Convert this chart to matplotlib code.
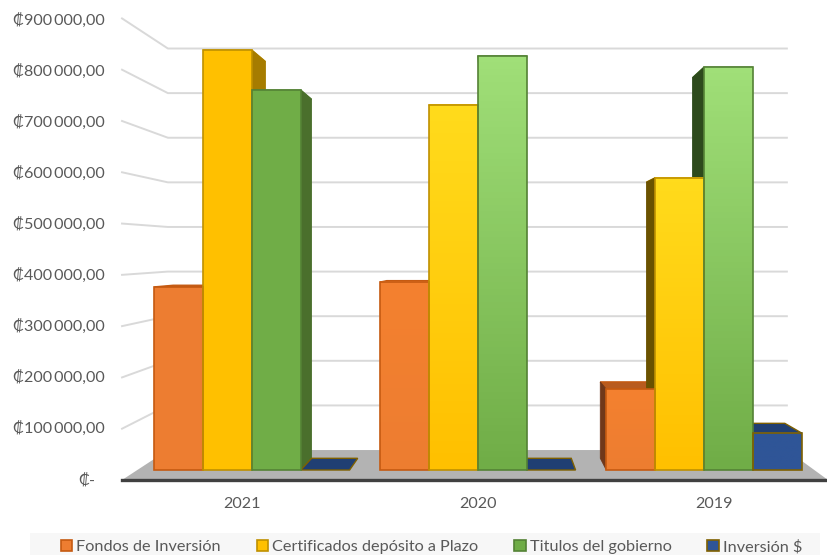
import numpy as np
import matplotlib
matplotlib.use('Agg')
import matplotlib.pyplot as plt
from matplotlib.colors import LinearSegmentedColormap
from matplotlib.patches import Patch, Polygon, Rectangle

plt.rcParams['font.family'] = ['Lato', 'DejaVu Sans']

years = ['2021', '2020', '2019']
series = ['Fondos de Inversión', 'Certificados depósito a Plazo', 'Titulos del gobierno', 'Inversión $']
fondos = [376000, 386000, 166000]
certificados = [862000, 750000, 600000]
titulos = [780000, 850000, 827000]
inversion = [0, 0, 76000]
axis_values = [0, 100000, 200000, 300000, 400000, 500000, 600000, 700000, 800000, 900000]

face_colors = ['#ED7D31', '#FFC000', '#70AD47', '#2F5597']
top_colors = ['#F4812F', '#FFDB1C', '#A0DF78', '#2F5597']
edge_colors = ['#C55A11', '#BF9000', '#548235', '#7F6000']
lid_colors = ['#B85B1F', '#A67C00', '#4A6F2C', '#203F73']
side_colors = [['#A85A20', '#A67C00', '#4A6F2C', '#203F73'],
               ['#A85A20', '#A67C00', '#4A6F2C', '#203F73'],
               ['#70381A', '#6B5200', '#2D4A1C', '#203F73']]
use_gradient = [False, True, True]

# one category is 226 px, 100000 is 48.7 px on the plane of the bar fronts
VX, VY = 1.084, 437000
BAR_W = 0.216
F_BAR_BACK, F_LABEL = 0.945, 1.047
FRONT_L, FRONT_R, BACK_L, BACK_R = -0.575, 2.549, -0.372, 2.367


def depth(x, y, f):
    return VX + (x - VX) * f, VY + (y - VY) * f


def wall_front(v):
    return -20500 + v * 1.053


def wall_back(v):
    return 41000 + v * 0.916


fig = plt.figure(figsize=(8.28, 5.55), dpi=100)
ax = fig.add_axes([0, 0, 1, 1])
ax.axis('off')
xlim = (-1.115, 2.549)
ylim = (-174500, 965000)

# gridlines along the side wall and the back wall
for v in axis_values[1:]:
    ax.plot([FRONT_L, BACK_L, BACK_R], [wall_front(v), wall_back(v), wall_back(v)],
            color='#D9D9D9', lw=1.4, zorder=1, solid_joinstyle='round')

# floor
ax.add_patch(Polygon([(FRONT_L, wall_front(0)), (BACK_L, wall_back(0)),
                      (BACK_R, wall_back(0)), (FRONT_R, wall_front(0))],
                     fc='#B3B3B3', ec='none', zorder=2))
ax.plot([FRONT_L, FRONT_R], [wall_front(0)] * 2, color='#404040', lw=2.4, zorder=5)

values = [fondos, certificados, titulos, inversion]
for i, year in enumerate(years):
    for j in range(4):
        v = values[j][i]
        x0 = i + (j - 2) * BAR_W
        x1 = x0 + BAR_W
        ec = edge_colors[j]

        # top of the bar
        bx0, by = depth(x0, v, F_BAR_BACK)
        bx1, _ = depth(x1, v, F_BAR_BACK)
        ax.add_patch(Polygon([(x0, v), (bx0, by), (bx1, by), (x1, v)], fc=lid_colors[j],
                             ec=ec, lw=1, zorder=3))

        # the side that can be seen from the vanishing point
        if v > 0:
            sx = None
            if x0 > VX:
                sx = x0
            elif x1 < VX:
                sx = x1
            if sx is not None:
                ox, oy_top = depth(sx, v, F_BAR_BACK)
                _, oy_bot = depth(sx, 0, F_BAR_BACK)
                ax.add_patch(Polygon([(sx, v), (ox, oy_top), (ox, oy_bot), (sx, 0)],
                                     fc=side_colors[i][j], ec=side_colors[i][j], lw=0.6, zorder=3))

            # front face
            if use_gradient[i]:
                cmap = LinearSegmentedColormap.from_list('bar', [top_colors[j], face_colors[j]])
                ax.imshow(np.linspace(0, 1, 64).reshape(-1, 1), cmap=cmap, aspect='auto',
                          extent=(x0, x1, 0, v), origin='upper', zorder=4)
            else:
                ax.add_patch(Rectangle((x0, 0), BAR_W, v, fc=face_colors[j], ec='none', zorder=4))
            ax.add_patch(Rectangle((x0, 0), BAR_W, v, fc='none', ec=ec, lw=1.2, zorder=4.5))

# value labels
for v in axis_values:
    y = VY + (v - VY) * F_LABEL
    if v == 0:
        ax.text(-0.695, y, '₡-', ha='right', va='center', fontsize=11.6, color='#595959')
    else:
        label = '₡{:,.2f}'.format(v).replace(',', '\u2009').replace('.', ',')
        ax.text(-0.65, y + 2000, label, ha='right', va='center', fontsize=11.6, color='#595959')

# category labels
for i, year in enumerate(years):
    ax.text(-0.045 + i * 1.045, -70000, year, ha='center', va='center', fontsize=11.6, color='#595959')

ax.set_xlim(xlim)
ax.set_ylim(ylim)

# legend band, cut by the bottom of the picture
fig.patches.append(Rectangle((30 / 828, 0), 790 / 828, 22 / 555, transform=fig.transFigure,
                             fc='#F7F7F7', ec='none', zorder=0))
handles = [Patch(fc=face_colors[j], ec=edge_colors[j], lw=1.2, label=series[j]) for j in range(4)]
fig.legend(handles=handles, ncols=4, frameon=False, loc='lower left',
           bbox_to_anchor=(61 / 828, 0.001), fontsize=11.7, labelcolor='#595959',
           handlelength=0.7, handleheight=0.7, handletextpad=0.25, columnspacing=2.2,
           borderpad=0, borderaxespad=0)

fig.savefig('out.png', dpi=100)
